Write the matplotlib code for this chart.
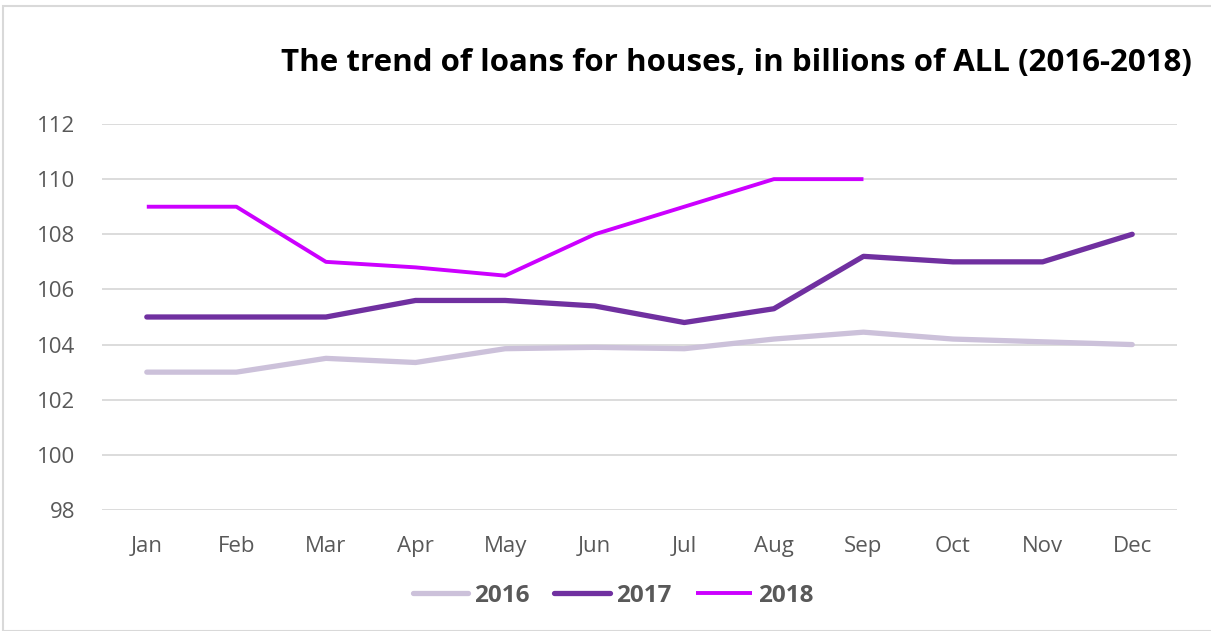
import matplotlib
matplotlib.use("Agg")
import matplotlib.pyplot as plt
from matplotlib.patches import Rectangle

months = ["Jan", "Feb", "Mar", "Apr", "May", "Jun", "Jul", "Aug", "Sep", "Oct", "Nov", "Dec"]
s2016 = [103.0, 103.0, 103.5, 103.35, 103.85, 103.9, 103.85, 104.2, 104.45, 104.2, 104.1, 104.0]
s2017 = [105.0, 105.0, 105.0, 105.6, 105.6, 105.4, 104.8, 105.3, 107.2, 107.0, 107.0, 108.0]
s2018 = [109.0, 109.0, 107.0, 106.8, 106.5, 108.0, 109.0, 110.0, 110.0]
yticks = [98, 100, 102, 104, 106, 108, 110, 112]

plt.rcParams['font.family'] = ['Open Sans', 'DejaVu Sans']

fig = plt.figure(figsize=(12.11, 6.31), dpi=100)
fig.patches.append(Rectangle((3/1211, 0), 1.0, 1 - 6/631, transform=fig.transFigure,
                             fill=False, edgecolor='#d9d9d9', linewidth=1.5))
ax = fig.add_axes([102/1211, 1 - 510/631, (1177 - 102)/1211, (510 - 124)/631])

x = list(range(len(months)))
ax.plot(x, s2016, color='#CCC1DA', lw=3.8, solid_capstyle='round', solid_joinstyle='round', label='2016')
ax.plot(x, s2017, color='#7030A0', lw=3.8, solid_capstyle='round', solid_joinstyle='round', label='2017')
ax.plot(x[:len(s2018)], s2018, color='#CC00FF', lw=2.8, solid_capstyle='butt', solid_joinstyle='round', label='2018')

ax.set_xlim(-0.5, 11.5)
ax.set_ylim(98, 112)
ax.set_yticks(yticks)
ax.set_xticks(x)
ax.set_xticklabels(months)
ax.yaxis.grid(True, color='#d9d9d9', lw=1.3)
ax.set_axisbelow(True)
for sp in ax.spines.values():
    sp.set_visible(False)
ax.tick_params(axis='both', length=0, colors='#595959', labelsize=16)
ax.tick_params(axis='x', pad=19)
ax.tick_params(axis='y', pad=19)

fig.text(736/1211, 1 - 63/631, "The trend of loans for houses, in billions of ALL (2016-2018)",
         ha='center', va='center', fontsize=22.5, fontweight='bold', color='black')

leg = fig.legend(loc='center', bbox_to_anchor=(613/1211, 1 - 596/631), ncol=3, frameon=False,
                 prop={'size': 17.5, 'weight': 'bold'}, handlelength=2.3, columnspacing=1.0,
                 handletextpad=0.25)
for t in leg.get_texts():
    t.set_color('#595959')

fig.savefig("out.png", dpi=100)
